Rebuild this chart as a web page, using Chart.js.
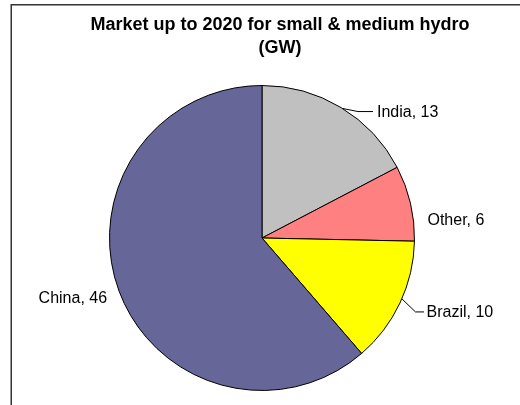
<!DOCTYPE html>
<html>
<head>
<meta charset="utf-8">
<script src="https://cdn.jsdelivr.net/npm/chart.js@4/dist/chart.umd.min.js"></script>
<style>
  html, body { margin: 0; padding: 0; background: #fff; }
  #wrap { width: 520px; height: 405px; position: relative; }
</style>
</head>
<body>
<div id="wrap"><canvas id="c" width="520" height="405"></canvas></div>
<script>
// Market up to 2020 for small & medium hydro, in GW
const categories = ['India', 'Other', 'Brazil', 'China'];
const capacityGW = [13, 6, 10, 46];
const titleLines = ['Market up to 2020 for small & medium hydro', '(GW)'];

const sliceColors = ['#C0C0C0', '#FF8080', '#FFFF00', '#666699'];
// label placement relative to the slice's mid-angle point on the rim
const labelLayout = [
  { leader: [[2, 1], [17, 4], [32, 4]], text: [36, 5.5], align: 'left' },
  { leader: null, text: [17, 17], align: 'left' },
  { leader: [[2, -4], [15.5, 9], [24, 9]], text: [26.5, 9.3], align: 'left' },
  { leader: null, text: [-12, 7], align: 'right' }
];

const decorations = {
  id: 'decorations',
  afterDatasetsDraw(chart) {
    const ctx = chart.ctx;
    ctx.save();
    // frame
    ctx.strokeStyle = '#333';
    ctx.lineWidth = 1.5;
    ctx.strokeRect(11.25, 4.75, 560, 430);

    // title
    ctx.fillStyle = '#000';
    ctx.font = "bold 18px 'Liberation Sans', Arial, sans-serif";
    ctx.textAlign = 'center';
    ctx.textBaseline = 'alphabetic';
    ctx.fillText(titleLines[0], 280, 29.5);
    ctx.fillText(titleLines[1], 280, 52.5);

    // slice labels
    const meta = chart.getDatasetMeta(0);
    ctx.font = "16px 'Liberation Sans', Arial, sans-serif";
    ctx.textBaseline = 'middle';
    meta.data.forEach((arc, i) => {
      const p = arc.getProps(['x', 'y', 'startAngle', 'endAngle', 'outerRadius'], true);
      const mid = (p.startAngle + p.endAngle) / 2;
      const ex = p.x + Math.cos(mid) * p.outerRadius;
      const ey = p.y + Math.sin(mid) * p.outerRadius;
      const lay = labelLayout[i];
      if (lay.leader) {
        ctx.strokeStyle = '#000';
        ctx.lineWidth = 1;
        ctx.beginPath();
        lay.leader.forEach((pt, k) => {
          const lx = ex + pt[0], ly = ey + pt[1];
          if (k === 0) ctx.moveTo(lx, ly); else ctx.lineTo(lx, ly);
        });
        ctx.stroke();
      }
      ctx.fillStyle = '#000';
      ctx.textAlign = lay.align;
      ctx.fillText(categories[i] + ', ' + capacityGW[i], ex + lay.text[0], ey + lay.text[1]);
    });
    ctx.restore();
  }
};

new Chart(document.getElementById('c'), {
  type: 'pie',
  data: {
    labels: categories,
    datasets: [{
      data: capacityGW,
      backgroundColor: sliceColors,
      borderColor: '#000',
      borderWidth: 1,
      hoverOffset: 0
    }]
  },
  options: {
    responsive: false,
    animation: false,
    devicePixelRatio: 1,
    layout: { padding: { left: 109, right: 105, top: 85, bottom: 14 } },
    plugins: {
      legend: { display: false },
      tooltip: { enabled: false },
      title: { display: false }
    }
  },
  plugins: [decorations]
});
</script>
</body>
</html>
